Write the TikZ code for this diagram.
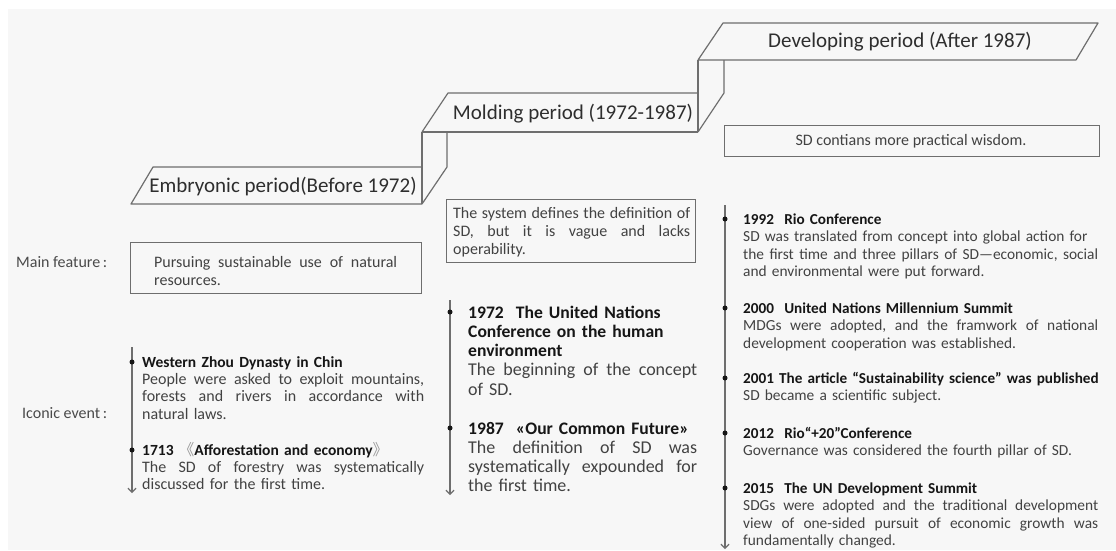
\documentclass[tikz,border=0pt]{standalone}
\usepackage{fontspec}
\setmainfont{Carlito}
\newfontfamily\cjkfont{Noto Sans CJK SC}
\usetikzlibrary{arrows.meta}
\definecolor{bgc}{HTML}{F7F7F7}
\definecolor{linec}{HTML}{6E6E6E}
\definecolor{bodyc}{HTML}{424242}
\definecolor{headc}{HTML}{161616}
\definecolor{labc}{HTML}{4A4A4A}
\definecolor{brc}{HTML}{9A9A9A}
\newcommand\jl[2]{\leavevmode\hbox to #1{\frenchspacing\spaceskip=\fontdimen2\font plus 1fil\relax #2}}
\newcommand\hd[2]{\mbox{\fontsize{#1}{10}\selectfont\bfseries\color{headc}#2}}
\begin{document}
\begin{tikzpicture}[x=1pt,y=-1pt,
  stepline/.style={draw=linec, line width=1.2pt, line join=round},
  titletext/.style={font=\fontsize{21}{25}\selectfont, text=black!82, inner sep=0},
  featbox/.style={draw=linec, line width=1.2pt},
  tline/.style={draw=linec, line width=1.2pt, -{Straight Barb[length=4pt,width=8pt]}},
  evdot/.style={circle, fill=headc, inner sep=0, minimum size=5pt},
  lab/.style={font=\fontsize{16}{18}\selectfont, text=labc, inner sep=0, anchor=west},
  evtext/.style={anchor=base west, inner sep=0, align=left, text=bodyc}]
\fill[white] (0,0) rectangle (1116,550);
\fill[bgc] (8,9) rectangle (1116,550);
\useasboundingbox (0,0) rectangle (1116,550);

% ---- stair steps ----
% Embryonic
\draw[stepline] (422,204) -- (131,204) -- (153,167) -- (422,167);
\draw[stepline] (422,204) -- (447,167) -- (447,132);
\draw[stepline] (422,204) -- (422,132);
% Molding
\draw[stepline] (422,132) -- (698,132);
\draw[stepline] (422,132) -- (448,93) -- (698,93);
\draw[stepline] (698,132) -- (724,93) -- (724,60);
\draw[stepline] (698,132) -- (698,60);
% Developing
\draw[stepline] (698,60) -- (723,23) -- (1098,23) -- (1076,60) -- (698,60);

\node[titletext] (emb) at (283,187) {Embryonic period(Before 1972)};
\node[titletext] (mold) at (573,114) {Molding period (1972-1987)};
\node[titletext] (dev) at (900,42) {Developing period (After 1987)};

% ---- feature boxes ----
\node[featbox, anchor=north west, minimum width=291pt, minimum height=51pt] (pursbox) at (130,242) {};
\node[evtext, font=\fontsize{16}{18}\selectfont, text width=250pt] (purs) at (154,267)
  {\jl{243pt}{Pursuing sustainable use of natural}\\resources.};
\node[featbox, anchor=north west, minimum width=249pt, minimum height=63pt] (sysbox) at (446,199) {};
\node[evtext, font=\fontsize{16}{18}\selectfont, text width=245pt] (sys) at (453,218)
  {\jl{237pt}{The system defines the definition of}\\\jl{237pt}{SD, but it is vague and lacks}\\operability.};
\node[featbox, anchor=north west, minimum width=375pt, minimum height=31pt] (wisbox) at (724,125) {};
\node[font=\fontsize{16}{18}\selectfont, text=bodyc, inner sep=0] (wis) at (911,141) {SD contians more practical wisdom.};

% ---- row labels ----
\node[lab] (mainf) at (16,262) {Main feature\,:};
\node[lab] (iconic) at (22,413) {Iconic event\,:};

% ---- left timeline ----
\coordinate (lt) at (132,347);
\coordinate (lb) at (132,493);
\draw[tline] (lt) -- (lb);
\node[evdot] (ld1) at (132,362) {};
\node[evdot] (ld2) at (132,450) {};
\node[evtext, font=\fontsize{16}{17.4}\selectfont, text width=300pt] (le1) at (142,367)
  {\hd{15.5}{Western Zhou Dynasty in Chin}\\
   \jl{282pt}{People were asked to exploit mountains,}\\
   \jl{282pt}{forests and rivers in accordance with}\\
   natural laws.};
\node[evtext, font=\fontsize{16}{17.4}\selectfont, text width=300pt] (le2) at (142,455)
  {\hd{15.5}{1713\ {\cjkfont\mdseries\color{brc}《}Afforestation and economy{\cjkfont\mdseries\color{brc}》}}\\
   \jl{282pt}{The SD of forestry was systematically}\\
   discussed for the first time.};

% ---- middle timeline ----
\coordinate (mt) at (450,300);
\coordinate (mb) at (450,495);
\draw[tline] (mt) -- (mb);
\node[evdot] (md1) at (450,312) {};
\node[evdot] (md2) at (450,428) {};
\node[evtext, font=\fontsize{18}{19.3}\selectfont, text width=250pt] (me1) at (468,318)
  {\hd{17.6}{1972\ \ The United Nations}\\
   \hd{17.6}{Conference on the human}\\
   \hd{17.6}{environment}\\
   \jl{229pt}{The beginning of the concept}\\
   of SD.};
\node[evtext, font=\fontsize{18}{19.3}\selectfont, text width=250pt] (me2) at (468,434)
  {\hd{17.6}{1987\ \ «Our Common Future»}\\
   \jl{229pt}{The definition of SD was}\\
   \jl{229pt}{systematically expounded for}\\
   the first time.};

% ---- right timeline ----
\coordinate (rt) at (725,205);
\coordinate (rb) at (725,549);
\draw[tline] (rt) -- (rb);
\node[evdot] (rd1) at (725,219) {};
\node[evdot] (rd2) at (725,308) {};
\node[evdot] (rd3) at (725,378) {};
\node[evdot] (rd4) at (725,433) {};
\node[evdot] (rd5) at (725,488) {};
\node[evtext, font=\fontsize{15.4}{17.6}\selectfont, text width=370pt] (re1) at (743,224)
  {\hd{15.2}{1992\ \ Rio Conference}\\
   SD was translated from concept into global action for\\
   \jl{355pt}{the first time and three pillars of SD—economic, social}\\
   and environmental were put forward.};
\node[evtext, font=\fontsize{15.4}{17.6}\selectfont, text width=370pt] (re2) at (743,313)
  {\hd{15.2}{2000\ \ United Nations Millennium Summit}\\
   \jl{355pt}{MDGs were adopted, and the framwork of national}\\
   development cooperation was established.};
\node[evtext, font=\fontsize{15.4}{17.6}\selectfont, text width=370pt] (re3) at (743,383)
  {\hd{15.2}{2001 The article “Sustainability science" was published}\\
   SD became a scientific subject.};
\node[evtext, font=\fontsize{15.4}{17.6}\selectfont, text width=370pt] (re4) at (743,438)
  {\hd{15.2}{2012\ \ Rio“+20”Conference}\\
   Governance was considered the fourth pillar of SD.};
\node[evtext, font=\fontsize{15.4}{17.6}\selectfont, text width=370pt] (re5) at (743,493)
  {\hd{15.2}{2015\ \ The UN Development Summit}\\
   \jl{355pt}{SDGs were adopted and the traditional development}\\
   \jl{355pt}{view of one-sided pursuit of economic growth was}\\
   fundamentally changed.};
\end{tikzpicture}
\end{document}
